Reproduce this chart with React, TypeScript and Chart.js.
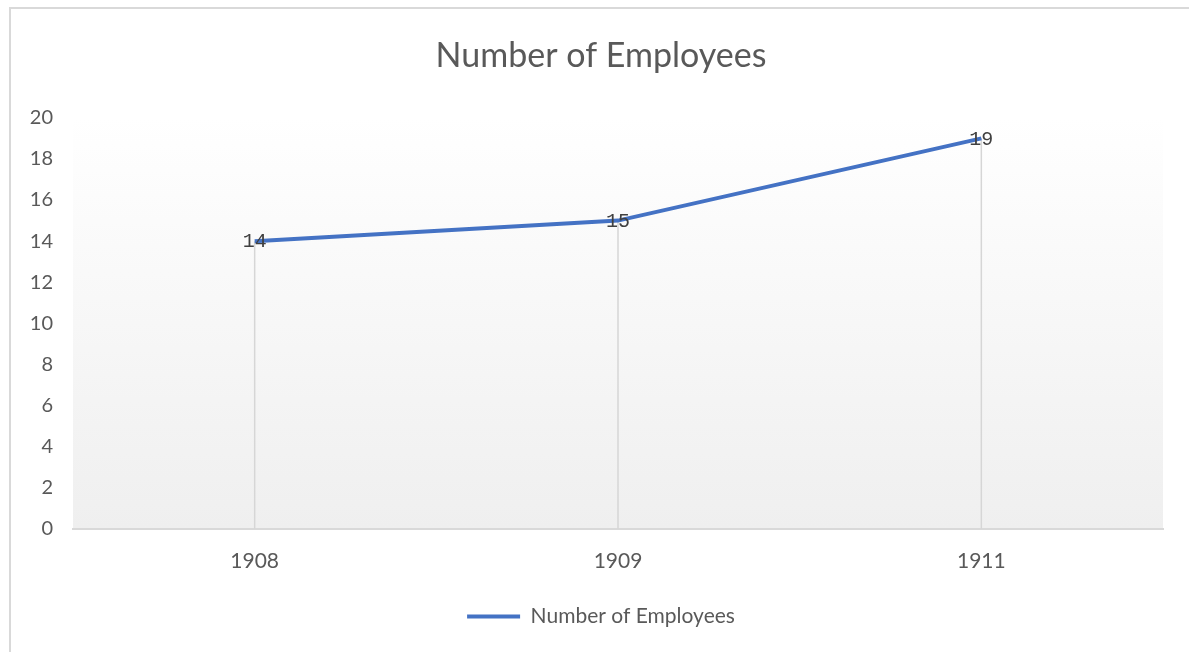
import React, { useEffect, useRef } from "react";
import { Chart, registerables } from "chart.js";

Chart.register(...registerables);

const chartTitle = "Number of Employees";
const seriesName = "Number of Employees";
const categories = ["1908", "1909", "1911"];
const employees = [14, 15, 19];
const yMin = 0;
const yMax = 20;
const yStep = 2;

const TEXT = "#595959";
const LINE = "#4472C4";
const FONT = "Lato";

const plotBackground = {
  id: "plotBackground",
  beforeDraw(chart: any) {
    const { ctx, chartArea } = chart;
    if (!chartArea) return;
    const g = ctx.createLinearGradient(0, chartArea.top, 0, chartArea.bottom);
    g.addColorStop(0, "#ffffff");
    g.addColorStop(1, "#efefef");
    ctx.save();
    ctx.fillStyle = g;
    ctx.fillRect(chartArea.left, chartArea.top, chartArea.right - chartArea.left, chartArea.bottom - chartArea.top);
    ctx.restore();
  },
};

const dropLines = {
  id: "dropLines",
  beforeDatasetsDraw(chart: any) {
    const { ctx, chartArea } = chart;
    const meta = chart.getDatasetMeta(0);
    ctx.save();
    ctx.strokeStyle = "#d6d6d6";
    ctx.lineWidth = 1.5;
    meta.data.forEach((pt: any) => {
      ctx.beginPath();
      ctx.moveTo(pt.x, pt.y);
      ctx.lineTo(pt.x, chartArea.bottom);
      ctx.stroke();
    });
    ctx.restore();
  },
};

const dataLabels = {
  id: "dataLabels",
  afterDatasetsDraw(chart: any) {
    const { ctx } = chart;
    const meta = chart.getDatasetMeta(0);
    const data = chart.data.datasets[0].data as number[];
    ctx.save();
    ctx.fillStyle = "#404040";
    ctx.font = "20px 'Liberation Mono'";
    ctx.textAlign = "center";
    ctx.textBaseline = "middle";
    meta.data.forEach((pt: any, i: number) => {
      ctx.fillText(String(data[i]), pt.x, pt.y + 1);
    });
    ctx.restore();
  },
};

export default function App() {
  const canvasRef = useRef<HTMLCanvasElement | null>(null);

  useEffect(() => {
    if (!canvasRef.current) return;
    const chart = new Chart(canvasRef.current, {
      type: "line",
      data: {
        labels: categories,
        datasets: [
          {
            label: seriesName,
            data: employees,
            borderColor: LINE,
            backgroundColor: LINE,
            borderWidth: 4,
            pointRadius: 0,
            pointHoverRadius: 0,
            tension: 0,
            fill: false,
          },
        ],
      },
      options: {
        responsive: false,
        animation: false,
        events: [],
        layout: { padding: { left: 25, right: 12, top: 0, bottom: 15 } },
        plugins: {
          title: {
            display: true,
            text: chartTitle,
            color: TEXT,
            font: { family: FONT, size: 34, weight: "normal" },
            padding: { top: 36, bottom: 41 },
          },
          legend: {
            position: "bottom",
            labels: {
              usePointStyle: true,
              pointStyle: "line",
              pointStyleWidth: 53,
              color: TEXT,
              font: { family: FONT, size: 21 },
              padding: 10,
            },
          },
          tooltip: { enabled: false },
        },
        scales: {
          x: {
            offset: true,
            grid: { display: false, drawTicks: false },
            border: { display: true, color: "#d9d9d9", width: 2 },
            ticks: { color: TEXT, font: { family: FONT, size: 21 }, padding: 20 },
            afterFit: (s: any) => {
              s.height = 67;
            },
          },
          y: {
            min: yMin,
            max: yMax,
            ticks: { stepSize: yStep, color: TEXT, font: { family: FONT, size: 20 }, padding: 20 },
            grid: { display: false, drawTicks: false },
            border: { display: false },
            afterFit: (s: any) => {
              s.width = 48;
            },
          },
          yRightSpace: {
            position: "right",
            min: yMin,
            max: yMax,
            ticks: { display: false },
            grid: { display: false, drawTicks: false },
            border: { display: false },
            afterFit: (s: any) => {
              s.width = 14;
            },
          },
        },
      },
      plugins: [plotBackground, dropLines, dataLabels],
    });
    return () => chart.destroy();
  }, []);

  return (
    <div
      style={{
        position: "absolute",
        left: 0,
        top: 0,
        width: 1189,
        height: 652,
        overflow: "hidden",
        background: "#ffffff",
      }}
    >
      <div
        style={{
          position: "absolute",
          left: 9,
          top: 7,
          width: 1400,
          height: 900,
          borderLeft: "2px solid #d9d9d9",
          borderTop: "2px solid #d9d9d9",
          boxSizing: "border-box",
        }}
      />
      <canvas
        ref={canvasRef}
        width={1189}
        height={652}
        style={{ position: "absolute", left: 0, top: 0, width: 1189, height: 652 }}
      />
    </div>
  );
}
